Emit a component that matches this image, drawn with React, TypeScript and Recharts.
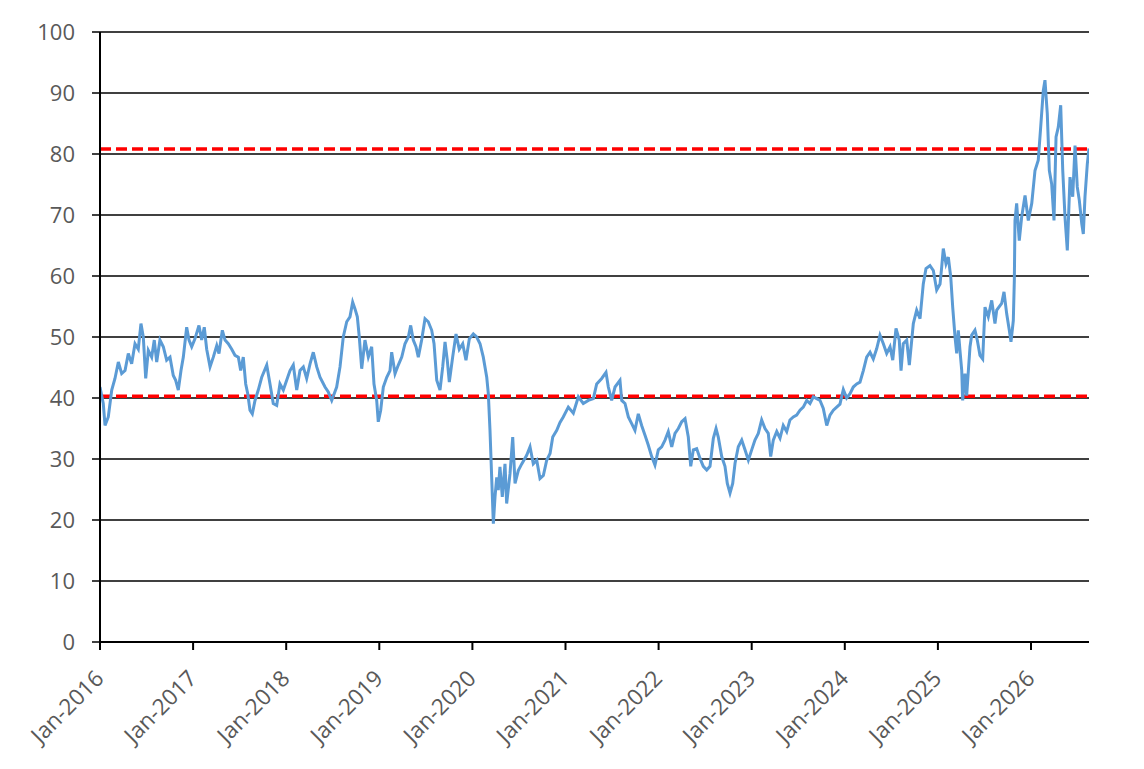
import React from "react";
import { LineChart, Line, XAxis, YAxis, CartesianGrid, ReferenceLine } from "recharts";

// Decimal-year positions of the sampled points
const years: number[] = [
  2016.000, 2016.035, 2016.054, 2016.089, 2016.126, 2016.161, 2016.197, 2016.233, 2016.269, 2016.304,
  2016.340, 2016.376, 2016.411, 2016.440, 2016.465, 2016.491, 2016.519, 2016.555, 2016.583, 2016.609,
  2016.644, 2016.680, 2016.716, 2016.752, 2016.787, 2016.813, 2016.841, 2016.870, 2016.895, 2016.931,
  2016.956, 2016.985, 2017.020, 2017.063, 2017.092, 2017.120, 2017.146, 2017.182, 2017.217, 2017.254,
  2017.278, 2017.314, 2017.343, 2017.378, 2017.415, 2017.450, 2017.486, 2017.511, 2017.539, 2017.565,
  2017.587, 2017.611, 2017.636, 2017.665, 2017.700, 2017.737, 2017.791, 2017.826, 2017.861, 2017.898,
  2017.933, 2017.969, 2018.005, 2018.041, 2018.076, 2018.113, 2018.148, 2018.184, 2018.220, 2018.256,
  2018.291, 2018.328, 2018.363, 2018.417, 2018.452, 2018.489, 2018.542, 2018.578, 2018.613, 2018.650,
  2018.685, 2018.714, 2018.739, 2018.764, 2018.785, 2018.811, 2018.846, 2018.882, 2018.918, 2018.943,
  2018.972, 2018.989, 2019.015, 2019.043, 2019.080, 2019.115, 2019.133, 2019.169, 2019.204, 2019.241,
  2019.276, 2019.312, 2019.337, 2019.365, 2019.394, 2019.419, 2019.455, 2019.491, 2019.526, 2019.563,
  2019.588, 2019.617, 2019.652, 2019.681, 2019.706, 2019.730, 2019.752, 2019.788, 2019.824, 2019.859,
  2019.896, 2019.931, 2019.967, 2020.010, 2020.046, 2020.082, 2020.117, 2020.154, 2020.171, 2020.189,
  2020.207, 2020.225, 2020.243, 2020.261, 2020.278, 2020.296, 2020.321, 2020.350, 2020.368, 2020.404,
  2020.433, 2020.458, 2020.493, 2020.530, 2020.583, 2020.619, 2020.654, 2020.691, 2020.726, 2020.762,
  2020.798, 2020.834, 2020.863, 2020.906, 2020.941, 2020.976, 2021.030, 2021.084, 2021.138, 2021.191,
  2021.245, 2021.299, 2021.335, 2021.389, 2021.435, 2021.460, 2021.496, 2021.532, 2021.585, 2021.604,
  2021.639, 2021.675, 2021.711, 2021.746, 2021.782, 2021.818, 2021.854, 2021.889, 2021.926, 2021.961,
  2021.997, 2022.033, 2022.069, 2022.104, 2022.141, 2022.176, 2022.212, 2022.248, 2022.284, 2022.319,
  2022.345, 2022.373, 2022.409, 2022.445, 2022.480, 2022.517, 2022.552, 2022.588, 2022.617, 2022.641,
  2022.678, 2022.713, 2022.738, 2022.767, 2022.796, 2022.821, 2022.856, 2022.893, 2022.928, 2022.964,
  2023.000, 2023.035, 2023.071, 2023.107, 2023.143, 2023.178, 2023.204, 2023.232, 2023.269, 2023.304,
  2023.339, 2023.376, 2023.411, 2023.447, 2023.483, 2023.519, 2023.554, 2023.591, 2023.626, 2023.662,
  2023.698, 2023.734, 2023.769, 2023.806, 2023.841, 2023.877, 2023.913, 2023.948, 2023.984, 2024.020,
  2024.056, 2024.091, 2024.128, 2024.163, 2024.199, 2024.235, 2024.271, 2024.306, 2024.343, 2024.378,
  2024.414, 2024.450, 2024.486, 2024.515, 2024.550, 2024.585, 2024.604, 2024.628, 2024.665, 2024.693,
  2024.719, 2024.736, 2024.772, 2024.808, 2024.843, 2024.872, 2024.915, 2024.951, 2024.987, 2025.023,
  2025.041, 2025.058, 2025.087, 2025.112, 2025.138, 2025.159, 2025.184, 2025.202, 2025.219, 2025.237,
  2025.256, 2025.266, 2025.291, 2025.309, 2025.345, 2025.363, 2025.398, 2025.423, 2025.452, 2025.481,
  2025.506, 2025.541, 2025.578, 2025.613, 2025.632, 2025.685, 2025.710, 2025.739, 2025.767, 2025.785,
  2025.810, 2025.821, 2025.828, 2025.846, 2025.874, 2025.900, 2025.936, 2025.971, 2026.008, 2026.043,
  2026.078, 2026.104, 2026.132, 2026.150, 2026.175, 2026.197, 2026.222, 2026.247, 2026.269, 2026.293,
  2026.319, 2026.341, 2026.365, 2026.390, 2026.419, 2026.448, 2026.473, 2026.497, 2026.519, 2026.545,
  2026.562, 2026.580, 2026.605, 2026.623,
];

// Index values read at those positions
const values: number[] = [
  41.8, 39.1, 35.5, 36.9, 41.3, 43.2, 45.9, 44.0, 44.5, 47.3,
  45.6, 48.9, 48.0, 52.2, 50.0, 43.2, 47.8, 46.7, 49.5, 45.9,
  49.5, 48.4, 46.2, 46.7, 43.7, 42.9, 41.3, 44.5, 46.7, 51.6,
  49.5, 48.4, 49.7, 51.9, 49.5, 51.6, 48.0, 45.1, 46.7, 48.6,
  47.3, 51.1, 49.5, 48.9, 48.0, 47.0, 46.7, 44.5, 46.7, 42.3,
  40.7, 38.0, 37.4, 39.6, 41.3, 43.4, 45.4, 42.3, 39.1, 38.8,
  42.3, 41.3, 42.9, 44.5, 45.4, 41.3, 44.5, 45.1, 43.2, 45.6,
  47.5, 45.1, 43.4, 41.8, 41.0, 39.6, 41.8, 45.1, 50.0, 52.5,
  53.3, 55.7, 54.6, 53.3, 50.0, 44.8, 49.5, 46.7, 48.4, 42.3,
  39.6, 36.1, 38.0, 41.8, 43.4, 44.5, 47.5, 44.0, 45.4, 46.7,
  48.9, 50.0, 51.9, 49.5, 48.4, 46.7, 49.5, 53.0, 52.5, 51.1,
  48.9, 42.9, 41.3, 45.1, 49.2, 46.2, 42.6, 46.7, 50.5, 48.0,
  48.9, 46.2, 49.7, 50.5, 50.0, 48.9, 46.7, 43.4, 40.7, 34.7,
  27.0, 19.4, 23.8, 27.0, 24.9, 28.7, 23.8, 29.2, 22.7, 27.6,
  33.6, 26.0, 28.1, 29.2, 30.6, 32.0, 29.2, 29.8, 26.8, 27.3,
  29.8, 30.9, 33.6, 34.7, 36.0, 36.9, 38.5, 37.5, 40.2, 39.1,
  39.6, 39.9, 42.3, 43.2, 44.2, 41.8, 39.6, 41.8, 42.9, 39.6,
  39.1, 36.9, 35.8, 34.7, 37.4, 35.5, 33.9, 32.3, 30.4, 29.0,
  31.5, 32.0, 33.1, 34.5, 32.0, 34.2, 35.0, 36.1, 36.6, 33.6,
  28.8, 31.5, 31.7, 30.1, 28.8, 28.2, 28.8, 33.4, 35.0, 33.6,
  30.4, 28.8, 26.0, 24.4, 26.0, 29.3, 32.0, 33.1, 31.5, 29.8,
  31.5, 33.1, 34.2, 36.4, 35.0, 34.2, 30.4, 33.1, 34.5, 33.4,
  35.5, 34.5, 36.4, 36.9, 37.2, 38.0, 38.5, 39.6, 39.1, 40.2,
  39.9, 39.6, 38.3, 35.5, 37.2, 38.0, 38.5, 39.0, 41.4, 40.0,
  40.7, 41.8, 42.3, 42.6, 44.5, 46.7, 47.5, 46.4, 48.1, 50.3,
  48.9, 47.3, 48.4, 46.2, 51.4, 49.5, 44.5, 48.9, 49.5, 45.4,
  49.5, 52.2, 54.4, 53.0, 58.7, 61.2, 61.7, 60.9, 57.7, 58.7,
  61.5, 64.5, 62.0, 63.1, 59.8, 54.9, 50.0, 47.3, 51.1, 47.8,
  44.5, 39.6, 44.0, 40.4, 48.4, 50.3, 51.1, 49.5, 47.0, 46.4,
  54.9, 53.3, 56.0, 52.2, 54.4, 55.5, 57.4, 53.8, 51.1, 49.2,
  52.7, 59.3, 69.1, 71.9, 65.8, 69.7, 73.2, 69.1, 71.9, 77.3,
  79.0, 84.4, 90.4, 92.1, 86.6, 77.3, 75.1, 69.1, 82.8, 84.4,
  88.0, 77.3, 69.7, 64.2, 76.2, 73.0, 81.4, 74.6, 72.4, 68.6,
  66.9, 73.0, 78.4, 80.9,
];

const xTicks: number[] = [2016, 2017, 2018, 2019, 2020, 2021, 2022, 2023, 2024, 2025, 2026];
const yTicks: number[] = [0, 10, 20, 30, 40, 50, 60, 70, 80, 90, 100];
const upperBand = 80.8;
const lowerBand = 40.3;
const xEnd = 2026.623;

const data = years.map((t, i) => ({ t, v: values[i] }));

const FONT = "'Open Sans', 'Liberation Sans', sans-serif";
const LABEL = "#595959";

const XTick = (props: any) => {
  const { x, y, payload } = props;
  return (
    <g transform={`translate(${x + 5},${y + 28}) rotate(-45)`}>
      <text x={0} y={0} textAnchor="end" fill={LABEL} fontSize={22.5} fontFamily={FONT}>
        {`Jan-${payload.value}`}
      </text>
    </g>
  );
};

export default function App() {
  return (
    <div style={{ width: 1128, height: 750, overflow: "hidden", background: "#fff" }}>
      <LineChart
        width={1128}
        height={750}
        data={data}
        margin={{ top: 24, right: 47, bottom: 0, left: 0 }}
      >
        <CartesianGrid
          yAxisId="left"
          horizontal={true}
          vertical={false}
          stroke="#000"
          strokeWidth={1.5}
          horizontalValues={yTicks}
        />
        <XAxis
          dataKey="t"
          type="number"
          domain={[2016, xEnd]}
          ticks={xTicks}
          allowDataOverflow
          height={116}
          tickSize={8}
          tickMargin={2}
          axisLine={{ stroke: "#000", strokeWidth: 2 }}
          tickLine={{ stroke: "#000", strokeWidth: 2 }}
          tick={<XTick />}
          interval={0}
        />
        <YAxis
          yAxisId="left"
          domain={[0, 100]}
          ticks={yTicks}
          width={92}
          tickSize={8}
          tickMargin={17}
          axisLine={{ stroke: "#000", strokeWidth: 2 }}
          tickLine={{ stroke: "#000", strokeWidth: 1.5 }}
          tick={{ fill: LABEL, fontSize: 22, fontFamily: FONT }}
          interval={0}
        />
        <YAxis
          yAxisId="right"
          orientation="right"
          domain={[0, 100]}
          width={0}
          tick={false}
          tickLine={false}
          axisLine={{ stroke: "#000", strokeWidth: 2 }}
        />
        <ReferenceLine yAxisId="left" y={upperBand} stroke="#FF0000" strokeWidth={3.5} strokeDasharray="11 5" />
        <ReferenceLine yAxisId="left" y={lowerBand} stroke="#FF0000" strokeWidth={3.5} strokeDasharray="11 5" />
        <Line
          yAxisId="left"
          type="linear"
          dataKey="v"
          stroke="#5B9BD5"
          strokeWidth={3}
          dot={false}
          activeDot={false}
          isAnimationActive={false}
        />
      </LineChart>
    </div>
  );
}
